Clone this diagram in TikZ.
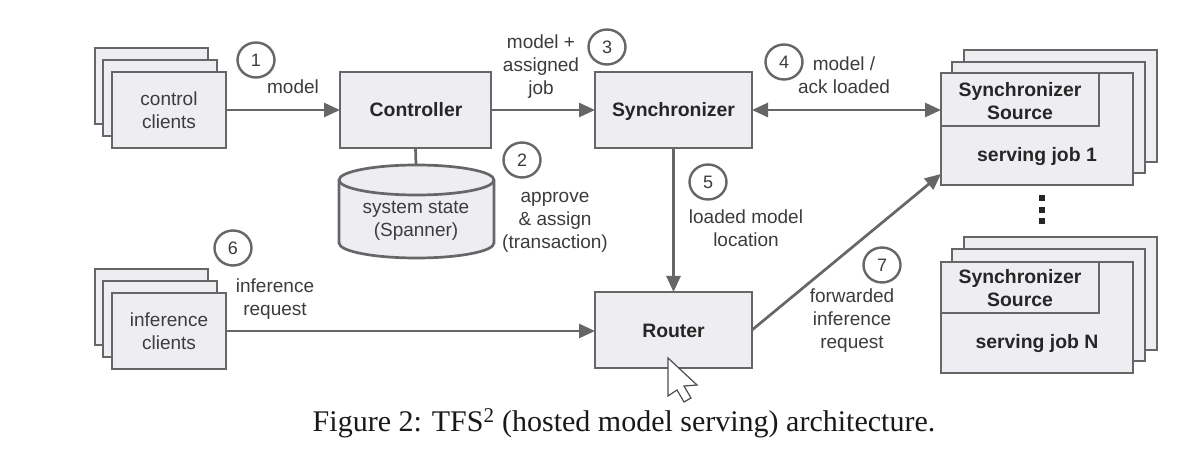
\documentclass[tikz,border=0pt]{standalone}
\usepackage{fontspec}
\setmainfont{Liberation Sans}
\newfontfamily\capfont{Liberation Serif}
\usetikzlibrary{arrows.meta,shapes.geometric}
\definecolor{edgegray}{HTML}{666666}
\definecolor{fillgray}{HTML}{EEEEF2}
\definecolor{txtgray}{HTML}{3C3C3C}
\tikzset{
  boxst/.style={draw=edgegray,fill=fillgray,line width=2.7pt,inner sep=0pt,outer sep=0pt},
  lbl/.style={text=txtgray,align=center,inner sep=0pt,font=\fontsize{19}{23}\selectfont},
  blbl/.style={text=black!85,align=center,inner sep=0pt,font=\fontsize{19.4}{23}\selectfont\bfseries},
  numc/.style={ellipse,draw=edgegray,fill=white,line width=2.4pt,minimum width=37pt,minimum height=35pt,inner sep=0pt,text=txtgray,font=\fontsize{18}{20}\selectfont},
  conn/.style={draw=edgegray,line width=2.7pt},
  arr/.style={conn,-{Triangle[length=16pt,width=14pt]}},
  biarr/.style={conn,{Triangle[length=16pt,width=14pt]}-{Triangle[length=16pt,width=14pt]}},
  dotst/.style={fill=black!85,minimum size=6.5pt,inner sep=0pt}
}
\newcommand{\bxat}[5]{\node[boxst,minimum width={(#4-#2)*1pt},minimum height={(#5-#3)*1pt}] (#1) at ({(#2+#4)/2},{(#3+#5)/2}) {};}
\begin{document}
\begin{tikzpicture}[x=1pt,y=-1pt]
\useasboundingbox (0,0) rectangle (1178,454);
\fill[white] (0,0) rectangle (1178,454);
% control clients
\bxat{cc3}{95}{48}{208}{124}
\bxat{cc2}{103}{60}{217}{136}
\bxat{cc1}{112}{72}{226}{148}
\node[lbl] (cctxt) at (169,110.5) {control\\clients};
% inference clients
\bxat{ic3}{95}{269}{208}{345}
\bxat{ic2}{103}{281}{217}{357}
\bxat{ic1}{112}{293}{226}{369}
\node[lbl] (ictxt) at (169,331.5) {inference\\clients};
% main boxes
\bxat{ctrl}{340}{72}{491}{148}
\node[blbl] (ctrltxt) at (416,110) {Controller};
\bxat{sync}{595}{72}{752}{148}
\node[blbl] (synctxt) at (673.5,111) {Synchronizer};
\bxat{router}{595}{292}{752}{368}
\node[blbl] (routertxt) at (673.5,331) {Router};
% cylinder
\coordinate (dbtop) at (416,165);
\draw[boxst] (339,180) arc[start angle=180,end angle=360,x radius=77.5,y radius=15] -- (494,243)
  arc[start angle=0,end angle=180,x radius=77.5,y radius=15] -- cycle;
\draw[conn] (339,180) arc[start angle=180,end angle=0,x radius=77.5,y radius=15];
\node[lbl] (dbtxt) at (416,221) {system state\\(Spanner)};
% serving job 1
\bxat{ja3}{964}{50}{1157}{162}
\bxat{ja2}{952}{62}{1145}{173}
\bxat{ja1}{941}{73}{1133}{185}
\bxat{sa}{941}{73}{1099}{126}
\node[blbl] (satxt) at (1020,101) {Synchronizer\\Source};
\node[blbl] (jatxt) at (1037,157) {serving job 1};
% dots
\node[dotst] (d1) at (1042,198) {};
\node[dotst] (d2) at (1042,210) {};
\node[dotst] (d3) at (1042,221) {};
% serving job N
\bxat{jn3}{964}{237}{1157}{350}
\bxat{jn2}{952}{249}{1145}{361}
\bxat{jn1}{941}{262}{1133}{373}
\bxat{sn}{941}{262}{1099}{313}
\node[blbl] (sntxt) at (1020,288) {Synchronizer\\Source};
\node[blbl] (jntxt) at (1037,344) {serving job N};
% connectors
\draw[arr] (cc1) -- (ctrl);
\draw[arr] (ctrl) -- (sync);
\coordinate (jain) at (941,110);
\coordinate (jbin) at (941,174);
\draw[biarr] (sync.east |- jain) -- (jain);
\draw[arr] (sync) -- (router);
\draw[conn] (ctrl.south) -- (dbtop);
\draw[arr] (ic1.east) -- (ic1.east -| router.west);
\draw[arr] (router.east) -- (jbin);
% number circles
\node[numc] (n1) at (256,60) {1};
\node[numc] (n2) at (522,160) {2};
\node[numc] (n3) at (607,47) {3};
\node[numc] (n4) at (784,62) {4};
\node[numc] (n5) at (708,182) {5};
\node[numc] (n6) at (233,248) {6};
\node[numc] (n7) at (882,265) {7};
% labels
\node[lbl] (l1) at (293,87) {model};
\node[lbl] (l3) at (541,66.5) {model +\\assigned\\job};
\node[lbl] (l4) at (844,75.5) {model /\\ack loaded};
\node[lbl] (l2) at (555,222) {approve\\\& assign\\(transaction)};
\node[lbl] (l5) at (746,228.5) {loaded model\\location};
\node[lbl] (l6) at (275,299) {inference\\request};
\node[lbl] (l7) at (852,320.5) {forwarded\\inference\\request};
% caption
\node[inner sep=0pt,text=black!90,font=\capfont\fontsize{30}{32}\selectfont] (cap) at (624,423) {Figure 2: TFS\textsuperscript{2} (hosted model serving) architecture.};
% mouse cursor
\draw[draw=black!70,fill=white,line width=1.2pt,line join=miter] (668,358) -- (668,396) -- (677,390) -- (684,402) -- (691,398) -- (684,386) -- (697,385) -- cycle;
\end{tikzpicture}
\end{document}
